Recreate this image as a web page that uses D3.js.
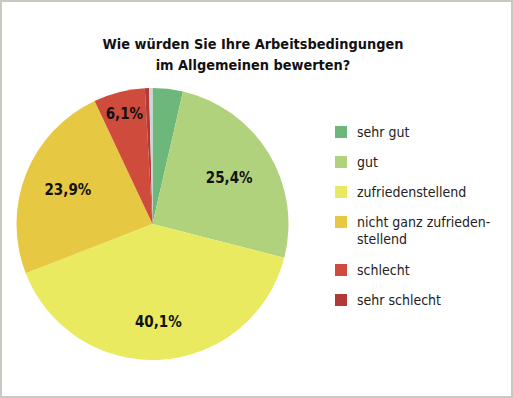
<!DOCTYPE html>
<html>
<head>
<meta charset="utf-8">
<script src="https://cdn.jsdelivr.net/npm/d3@7"></script>
<style>
  body { margin: 0; background: #fff; }
  svg text { font-family: "DejaVu Sans Condensed", "DejaVu Sans", sans-serif; }
</style>
</head>
<body>
<div id="chart"></div>
<script>
// Chart data
const categories = ["sehr gut", "gut", "zufriedenstellend", "nicht ganz zufrieden-stellend", "schlecht", "sehr schlecht", "keine Angabe"];
const values = [3.6, 25.4, 40.1, 23.9, 6.1, 0.5, 0.4];
const colors = ["#6cb779", "#b1d27d", "#e9ea5f", "#e7c842", "#cf4b3b", "#b13a39", "#cfd2da"];
const sliceLabels = ["", "25,4%", "40,1%", "23,9%", "6,1%", "", ""];
const legendItems = [["sehr gut"], ["gut"], ["zufriedenstellend"], ["nicht ganz zufrieden-", "stellend"], ["schlecht"], ["sehr schlecht"]];
const titleLines = ["Wie würden Sie Ihre Arbeitsbedingungen", "im Allgemeinen bewerten?"];

const svgWidth = 513;
const svgHeight = 398;

const svg = d3.select("#chart").append("svg")
    .attr("width", svgWidth)
    .attr("height", svgHeight);

// Outer frame
svg.append("rect")
    .attr("x", 1).attr("y", 1)
    .attr("width", svgWidth - 2).attr("height", svgHeight - 2)
    .attr("fill", "#fff")
    .attr("stroke", "#c9c9c1")
    .attr("stroke-width", 2);

// Title
svg.append("text")
    .attr("x", 253)
    .attr("y", 49)
    .attr("text-anchor", "middle")
    .style("font-weight", "bold")
    .style("font-size", "14.4px")
    .attr("fill", "#111")
    .selectAll("tspan")
    .data(titleLines)
    .enter()
    .append("tspan")
    .attr("x", 253)
    .attr("dy", (d, i) => i === 0 ? 0 : 21)
    .text(d => d);

// Pie
const cx = 152.5, cy = 224, radius = 136;
const pie = d3.pie().sort(null).value(d => d);
const arc = d3.arc().innerRadius(0).outerRadius(radius);
const arcs = pie(values);

const g = svg.append("g").attr("transform", `translate(${cx},${cy})`);

g.selectAll("path")
    .data(arcs)
    .enter()
    .append("path")
    .attr("d", arc)
    .attr("fill", (d, i) => colors[i]);

// Slice labels, placed at chosen radii per slice
const labelRadius = [0, 0.66, 0.72, 0.67, 0.84, 0, 0];
g.selectAll("text.slice")
    .data(arcs)
    .enter()
    .filter((d, i) => sliceLabels[i] !== "")
    .append("text")
    .attr("class", "slice")
    .attr("transform", d => {
        const i = d.index;
        const a = (d.startAngle + d.endAngle) / 2;
        const r = radius * labelRadius[i];
        return `translate(${Math.sin(a) * r},${-Math.cos(a) * r})`;
    })
    .attr("dy", "0.35em")
    .attr("text-anchor", "middle")
    .style("font-weight", "bold")
    .style("font-size", "15px")
    .attr("fill", "#111")
    .text(d => sliceLabels[d.index]);

// Legend
const legendY = [132, 162, 192, 222, 270, 300];
const legend = svg.append("g");
legendItems.forEach((lines, i) => {
    legend.append("rect")
        .attr("x", 335)
        .attr("y", legendY[i] - 6)
        .attr("width", 12)
        .attr("height", 12)
        .attr("fill", colors[i]);
    legend.append("text")
        .attr("x", 357)
        .attr("y", legendY[i] + 5)
        .style("font-size", "14px")
        .attr("fill", "#222")
        .selectAll("tspan")
        .data(lines)
        .enter()
        .append("tspan")
        .attr("x", 357)
        .attr("dy", (d, j) => j === 0 ? 0 : 17)
        .text(d => d);
});
</script>
</body>
</html>
